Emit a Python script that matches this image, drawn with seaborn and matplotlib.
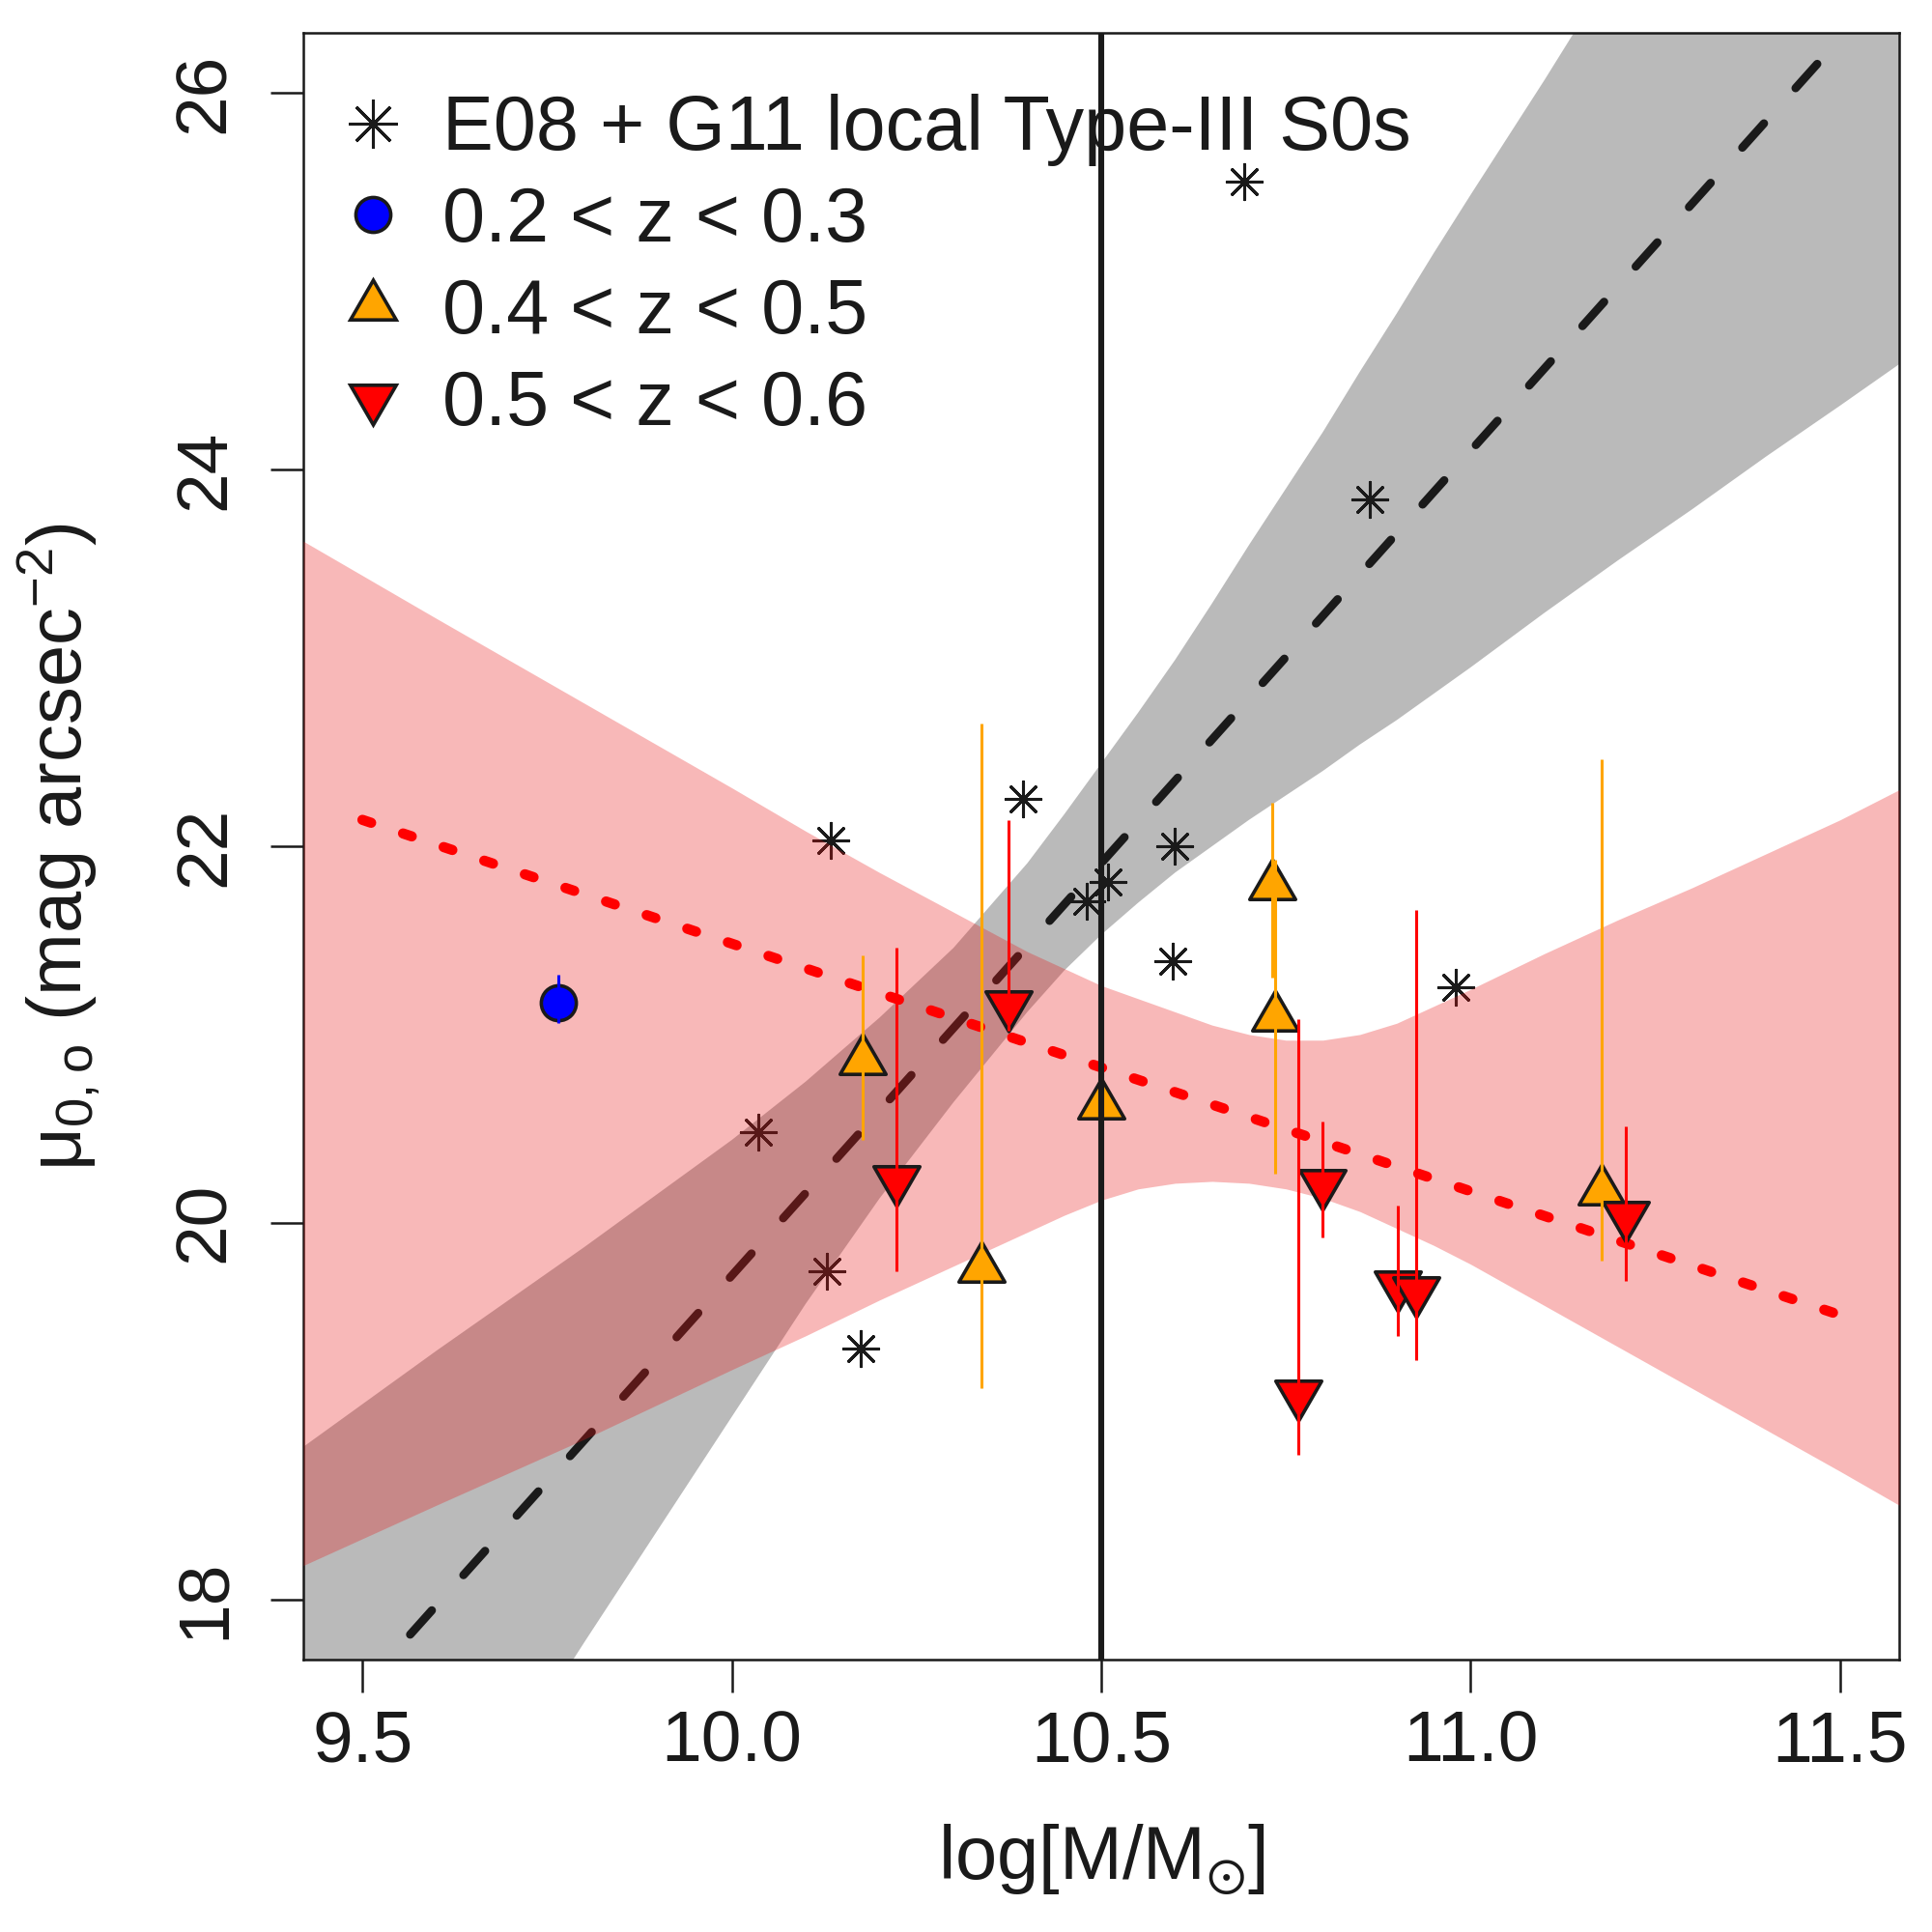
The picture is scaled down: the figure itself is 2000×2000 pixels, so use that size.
import matplotlib
matplotlib.use("Agg")
import matplotlib.pyplot as plt
import seaborn as sns
from matplotlib.lines import Line2D

# E08 + G11 local Type-III S0s
local_mass = [10.693, 10.863, 10.134, 10.394, 10.600, 10.509, 10.480, 10.597,
              10.980, 10.036, 10.129, 10.175]
local_mu = [25.53, 23.84, 22.03, 22.25, 22.00, 21.81, 21.71, 21.39,
            21.25, 20.48, 19.74, 19.33]

# 0.2 < z < 0.3
z1_mass = [9.765]
z1_mu = [21.17]
z1_lo = [21.06]
z1_hi = [21.32]

# 0.4 < z < 0.5
z2_mass = [10.177, 10.338, 10.500, 10.731, 10.736, 11.177]
z2_mu = [20.86, 19.76, 20.625, 21.79, 21.09, 20.17]
z2_lo = [20.44, 19.12, 20.35, 21.30, 20.26, 19.80]
z2_hi = [21.42, 22.65, 20.90, 22.23, 21.93, 22.46]

# 0.5 < z < 0.6
z3_mass = [10.223, 10.375, 10.767, 10.800, 10.901, 10.926, 11.210]
z3_mu = [20.23, 21.16, 19.09, 20.21, 19.67, 19.64, 20.04]
z3_lo = [19.74, 21.02, 18.77, 19.92, 19.40, 19.27, 19.69]
z3_hi = [21.46, 22.14, 21.08, 20.54, 20.09, 21.66, 20.51]

# linear fits
fit_x = [9.5, 11.5]
local_fit = [17.53, 26.29]
hiz_fit = [22.14, 19.51]

# confidence bands
band_x = [9.42, 9.6, 9.8, 10.0, 10.1, 10.2, 10.3, 10.4, 10.45, 10.5, 10.55, 10.6, 10.65,
          10.7, 10.75, 10.8, 10.85, 10.9, 10.95, 11.0, 11.1, 11.2, 11.3, 11.4, 11.5, 11.58]
gray_lo = [15.40, 16.55, 17.77, 18.97, 19.57, 20.13, 20.64, 21.12, 21.34, 21.53, 21.70, 21.86, 22.00,
           22.14, 22.27, 22.40, 22.54, 22.67, 22.81, 22.95, 23.24, 23.52, 23.79, 24.07, 24.34, 24.56]
gray_hi = [18.81, 19.32, 19.87, 20.44, 20.75, 21.09, 21.46, 21.91, 22.17, 22.44, 22.71, 22.99, 23.29,
           23.60, 23.90, 24.20, 24.52, 24.83, 25.15, 25.46, 26.07, 26.70, 27.33, 27.96, 28.60, 29.10]
pink_lo = [18.18, 18.50, 18.85, 19.22, 19.40, 19.59, 19.77, 19.95, 20.04, 20.12, 20.18, 20.21, 20.22,
           20.21, 20.18, 20.13, 20.06, 19.97, 19.88, 19.78, 19.56, 19.34, 19.12, 18.90, 18.68, 18.50]
pink_hi = [23.62, 23.21, 22.76, 22.31, 22.08, 21.86, 21.65, 21.44, 21.35, 21.26, 21.19, 21.12, 21.05,
           21.00, 20.97, 20.97, 21.00, 21.06, 21.15, 21.24, 21.43, 21.61, 21.78, 21.96, 22.14, 22.30]

labels = ["E08 + G11 local Type-III S0s", "0.2 < z < 0.3", "0.4 < z < 0.5", "0.5 < z < 0.6"]

sns.set_theme(style="ticks")
plt.rcParams['font.family'] = ['Liberation Sans', 'DejaVu Sans']
plt.rcParams['mathtext.default'] = 'regular'

fig = plt.figure(figsize=(10, 10), dpi=200)
ax = fig.add_axes([0.157, 0.141, 0.826, 0.842])

pink = (232 / 255, 22 / 255, 22 / 255)
star = (8, 2, 0)
tri_up = (3, 0, 0)
tri_dn = (3, 0, 180)

ax.fill_between(band_x, gray_lo, gray_hi, color='#BABABA', lw=0, zorder=1)

sns.scatterplot(x=local_mass, y=local_mu, marker=star, s=170, color='k',
                linewidth=1.1, zorder=2, ax=ax)

sns.lineplot(x=fit_x, y=local_fit, color='k', lw=3.1, linestyle=(1.0, (3.9, 5.7)),
             dash_capstyle='round', estimator=None, sort=False, zorder=2.5, ax=ax)

ax.fill_between(band_x, pink_lo, pink_hi, color=pink, alpha=0.3, lw=0, zorder=3)

sns.lineplot(x=fit_x, y=hiz_fit, color='red', lw=3.8, linestyle=(0, (0.9, 3.3)),
             dash_capstyle='round', estimator=None, sort=False, zorder=3.5, ax=ax)

sns.scatterplot(x=z1_mass, y=z1_mu, marker='o', s=170, color='blue',
                edgecolor='k', linewidth=1.3, zorder=4, ax=ax)
sns.scatterplot(x=z2_mass, y=z2_mu, marker=tri_up, s=390, color='orange',
                edgecolor='k', linewidth=1.3, zorder=4, ax=ax)
sns.scatterplot(x=z3_mass, y=z3_mu, marker=tri_dn, s=390, color='red',
                edgecolor='k', linewidth=1.3, zorder=4, ax=ax)

ax.vlines(z1_mass, z1_lo, z1_hi, colors='blue', lw=1.1, zorder=5)
ax.vlines(z2_mass, z2_lo, z2_hi, colors='orange', lw=1.1, zorder=5)
ax.vlines(z3_mass, z3_lo, z3_hi, colors='red', lw=1.1, zorder=5)

ax.axvline(10.5, color='k', lw=2.2, zorder=6)

ax.set_xlim(9.42, 11.58)
ax.set_ylim(17.68, 26.32)
ax.set_xticks([9.5, 10.0, 10.5, 11.0, 11.5])
ax.set_xticklabels(["9.5", "10.0", "10.5", "11.0", "11.5"])
ax.set_yticks([18, 20, 22, 24, 26])
ax.tick_params(direction='out', length=12.2, width=0.9, labelsize=27, color='k',
               labelcolor='k')
ax.tick_params(axis='x', pad=6.5)
ax.tick_params(axis='y', pad=12, labelrotation=90)
for lbl in ax.get_yticklabels():
    lbl.set_verticalalignment('center')
for sp in ax.spines.values():
    sp.set_color('k')
    sp.set_linewidth(0.9)

ax.set_xlabel(r'log[M/M$_{\odot}$]', fontsize=28, labelpad=17, color='k')
ax.set_ylabel(r'μ$_{0,o}$ (mag arcsec$^{-2}$)', fontsize=28, labelpad=26, color='k')

handles = [
    Line2D([], [], ls='none', marker=star, color='k', markersize=18, markeredgewidth=1.1),
    Line2D([], [], ls='none', marker='o', markerfacecolor='blue', markeredgecolor='k',
           markersize=13, markeredgewidth=1.3),
    Line2D([], [], ls='none', marker=tri_up, markerfacecolor='orange', markeredgecolor='k',
           markersize=19.7, markeredgewidth=1.3),
    Line2D([], [], ls='none', marker=tri_dn, markerfacecolor='red', markeredgecolor='k',
           markersize=19.7, markeredgewidth=1.3),
]
leg = ax.legend(handles, labels, loc='upper left', bbox_to_anchor=(0.0194, 0.9624),
                frameon=False, fontsize=28.5, handlelength=1.0, handletextpad=0.42,
                labelspacing=0.25, borderaxespad=0, borderpad=0)
for t in leg.get_texts():
    t.set_color('k')

fig.savefig("out.png", dpi=200)
